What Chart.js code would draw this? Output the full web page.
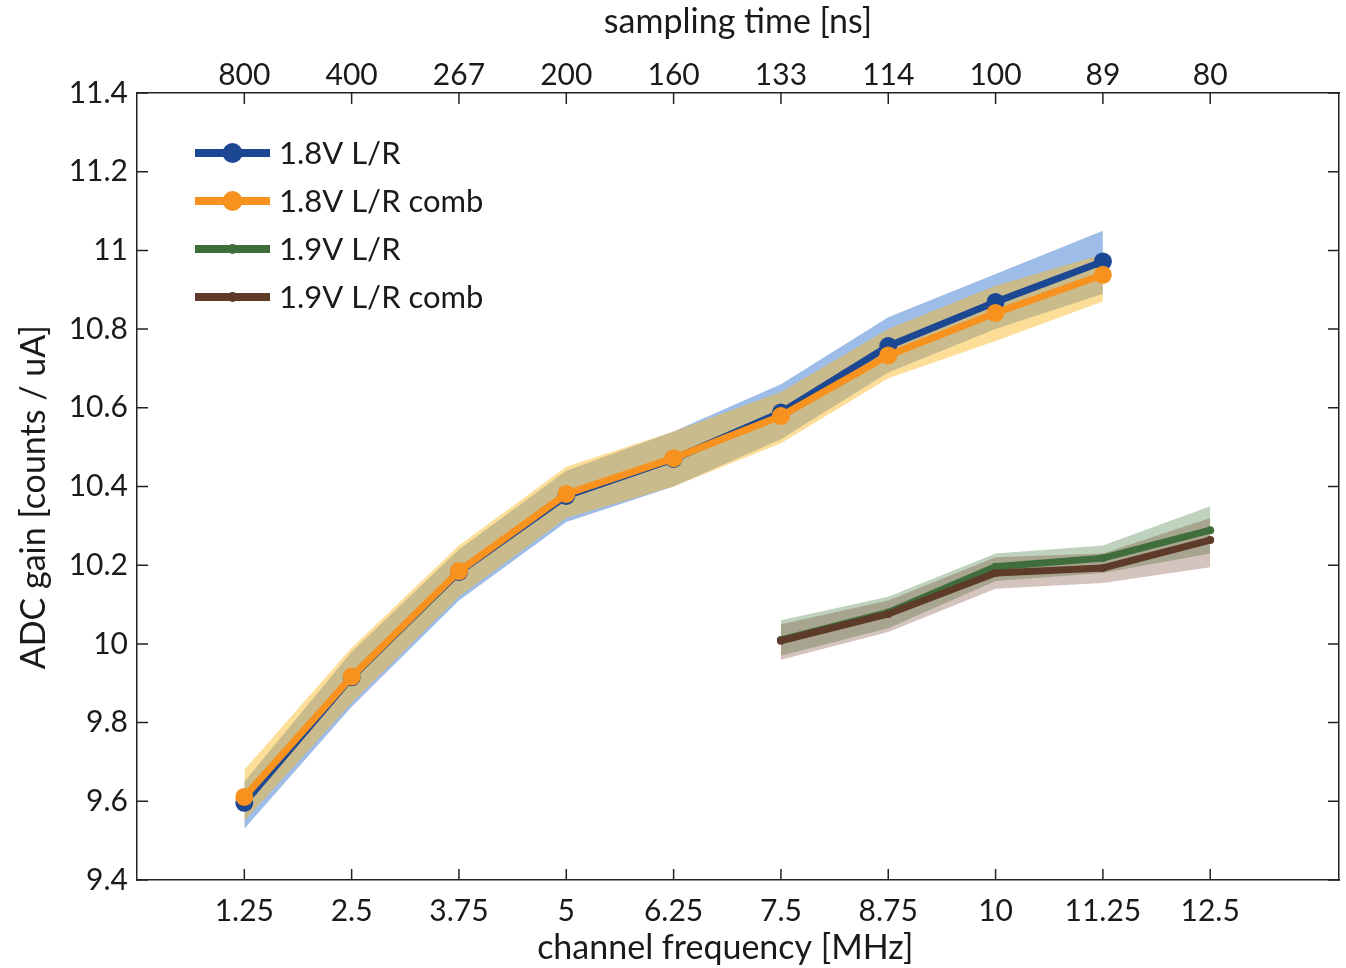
<!DOCTYPE html>
<html>
<head>
<meta charset="utf-8">
<script src="https://cdn.jsdelivr.net/npm/chart.js@4"></script>
<style>
html, body { margin: 0; padding: 0; background: #fff; }
#wrap { width: 1346px; height: 968px; }
</style>
</head>
<body>
<div id="wrap"><canvas id="gain"></canvas></div>
<script>
// channel frequency [MHz] and matching sampling time [ns]
var freqs = [1.25, 2.5, 3.75, 5, 6.25, 7.5, 8.75, 10, 11.25, 12.5];
var samplingTimes = ['800', '400', '267', '200', '160', '133', '114', '100', '89', '80'];

// 1.8V runs (1.25 .. 11.25 MHz)
var freq18 = freqs.slice(0, 9);
var gain18 = [9.596, 9.915, 10.183, 10.376, 10.470, 10.588, 10.757, 10.869, 10.972];
var gain18Hi = [9.65, 9.98, 10.24, 10.44, 10.54, 10.66, 10.83, 10.94, 11.05];
var gain18Lo = [9.53, 9.84, 10.11, 10.31, 10.40, 10.52, 10.69, 10.80, 10.89];
var gain18Comb = [9.611, 9.917, 10.185, 10.381, 10.472, 10.579, 10.733, 10.841, 10.938];
var gain18CombHi = [9.68, 9.99, 10.25, 10.45, 10.54, 10.64, 10.80, 10.91, 10.99];
var gain18CombLo = [9.55, 9.85, 10.12, 10.32, 10.40, 10.51, 10.675, 10.77, 10.87];

// 1.9V runs (7.5 .. 12.5 MHz)
var freq19 = freqs.slice(5);
var gain19 = [10.010, 10.080, 10.196, 10.218, 10.289];
var gain19Hi = [10.06, 10.12, 10.23, 10.25, 10.35];
var gain19Lo = [9.97, 10.04, 10.16, 10.18, 10.23];
var gain19Comb = [10.008, 10.076, 10.180, 10.193, 10.264];
var gain19CombHi = [10.05, 10.11, 10.22, 10.23, 10.32];
var gain19CombLo = [9.96, 10.03, 10.14, 10.155, 10.195];

var yTicks = [9.4, 9.6, 9.8, 10, 10.2, 10.4, 10.6, 10.8, 11, 11.2, 11.4];

var FONT = 'Lato, "Open Sans", sans-serif';
var INK = '#1a1a1a';

function pts(xs, ys) {
	var out = [];
	for (var i = 0; i < ys.length; i++) out.push({x: xs[i], y: ys[i]});
	return out;
}

function band(xs, hi, lo, color, ord) {
	return [{
		label: '_hi', data: pts(xs, hi), borderWidth: 0, pointRadius: 0,
		backgroundColor: color, fill: '+1', order: ord
	}, {
		label: '_lo', data: pts(xs, lo), borderWidth: 0, pointRadius: 0,
		fill: false, order: ord
	}];
}

function series(label, xs, ys, color, r, ord) {
	return {
		label: label, data: pts(xs, ys), borderColor: color, backgroundColor: color,
		borderWidth: 7, pointRadius: r, pointBorderWidth: 0, pointBackgroundColor: color,
		fill: false, order: ord, isMain: true
	};
}

var datasets = [].concat(
	band(freq18, gain18Hi, gain18Lo, 'rgba(50,115,205,0.48)', 13),
	band(freq18, gain18CombHi, gain18CombLo, 'rgba(248,185,40,0.48)', 12),
	band(freq19, gain19Hi, gain19Lo, 'rgba(70,125,65,0.35)', 11),
	band(freq19, gain19CombHi, gain19CombLo, 'rgba(115,60,40,0.30)', 10),
	[
		series('1.8V L/R', freq18, gain18, '#1b4793', 9, 2),
		series('1.8V L/R comb', freq18, gain18Comb, '#f7921e', 9, 1),
		series('1.9V L/R', freq19, gain19, '#3f6e3c', 4, 4),
		series('1.9V L/R comb', freq19, gain19Comb, '#5e3b29', 4, 3)
	]
);

// ticks pointing into the plot on all four sides
var inwardTicks = {
	id: 'inwardTicks',
	afterDraw: function(chart) {
		var ctx = chart.ctx, a = chart.chartArea, L = 11;
		var xs = chart.scales.x, ys = chart.scales.y;
		ctx.save();
		ctx.strokeStyle = '#222';
		ctx.lineWidth = 1.5;
		ctx.beginPath();
		xs.ticks.forEach(function(t) {
			var px = xs.getPixelForValue(t.value);
			ctx.moveTo(px, a.bottom); ctx.lineTo(px, a.bottom - L);
			ctx.moveTo(px, a.top); ctx.lineTo(px, a.top + L);
		});
		ys.ticks.forEach(function(t) {
			var py = ys.getPixelForValue(t.value);
			ctx.moveTo(a.left, py); ctx.lineTo(a.left + L, py);
			ctx.moveTo(a.right, py); ctx.lineTo(a.right - L, py);
		});
		ctx.stroke();
		ctx.restore();
	}
};

// legend inside the plot: line with marker, then label
var insideLegend = {
	id: 'insideLegend',
	afterDraw: function(chart) {
		var ctx = chart.ctx, a = chart.chartArea;
		var x0 = a.left + 58, x1 = a.left + 133, y = a.top + 60, step = 48;
		ctx.save();
		ctx.font = '31px ' + FONT;
		ctx.textBaseline = 'middle';
		chart.data.datasets.forEach(function(ds) {
			if (!ds.isMain) return;
			ctx.strokeStyle = ds.borderColor;
			ctx.lineWidth = 8;
			ctx.beginPath(); ctx.moveTo(x0, y); ctx.lineTo(x1, y); ctx.stroke();
			ctx.fillStyle = ds.borderColor;
			ctx.beginPath(); ctx.arc((x0 + x1) / 2, y, ds.pointRadius + 1, 0, Math.PI * 2); ctx.fill();
			ctx.fillStyle = INK;
			ctx.fillText(ds.label, x1 + 9, y + 1);
			y += step;
		});
		ctx.restore();
	}
};

function noSidePad(s) { s.paddingLeft = 0; s.paddingRight = 0; }

new Chart(document.getElementById('gain'), {
	type: 'line',
	data: {datasets: datasets},
	plugins: [inwardTicks, insideLegend],
	options: {
		responsive: true,
		maintainAspectRatio: false,
		animation: false,
		layout: {autoPadding: false, padding: {left: 0, right: 7, top: 0, bottom: 0}},
		plugins: {legend: {display: false}, tooltip: {enabled: false}},
		elements: {line: {tension: 0}},
		scales: {
			x: {
				type: 'linear', position: 'bottom', min: 0, max: 14,
				afterBuildTicks: function(s) { s.ticks = freqs.map(function(v) { return {value: v}; }); },
				afterFit: function(s) { s.height = 88; noSidePad(s); },
				grid: {display: false, drawTicks: false},
				border: {display: true, color: '#222', width: 1.5},
				ticks: {
					padding: 13, color: INK, maxRotation: 0, autoSkip: false,
					font: {family: FONT, size: 30},
					callback: function(v) { return String(v); }
				},
				// trailing space nudges the centred title left, as in the original
				title: {display: true, text: 'channel frequency [MHz]\u2003', color: INK,
					font: {family: FONT, size: 34}, padding: {bottom: 0}}
			},
			x2: {
				type: 'linear', position: 'top', min: 0, max: 14,
				afterBuildTicks: function(s) { s.ticks = freqs.map(function(v) { return {value: v}; }); },
				afterFit: function(s) { s.height = 93; noSidePad(s); },
				grid: {display: false, drawTicks: false},
				border: {display: true, color: '#222', width: 1.5},
				ticks: {
					padding: 0, color: INK, maxRotation: 0, autoSkip: false,
					font: {family: FONT, size: 30},
					callback: function(v, i) { return samplingTimes[i]; }
				},
				title: {display: true, text: 'sampling time [ns]', color: INK,
					font: {family: FONT, size: 34}, padding: {top: 2}}
			},
			y: {
				type: 'linear', position: 'left', min: 9.4, max: 11.4,
				afterBuildTicks: function(s) { s.ticks = yTicks.map(function(v) { return {value: v}; }); },
				afterFit: function(s) { s.width = 137; },
				grid: {display: false, drawTicks: false},
				border: {display: true, color: '#222', width: 1.5},
				ticks: {
					padding: 9, color: INK,
					font: {family: FONT, size: 30},
					callback: function(v) { return String(+v.toFixed(1)); }
				},
				title: {display: true, text: 'ADC gain [counts / uA]\u2002\u2009', color: INK,
					font: {family: FONT, size: 34}, padding: {top: 14}}
			},
			y2: {
				type: 'linear', position: 'right', min: 9.4, max: 11.4,
				afterFit: function(s) { s.width = 0; },
				grid: {display: false, drawTicks: false},
				border: {display: true, color: '#222', width: 1.5},
				ticks: {display: false}
			}
		}
	}
});
</script>
</body>
</html>
